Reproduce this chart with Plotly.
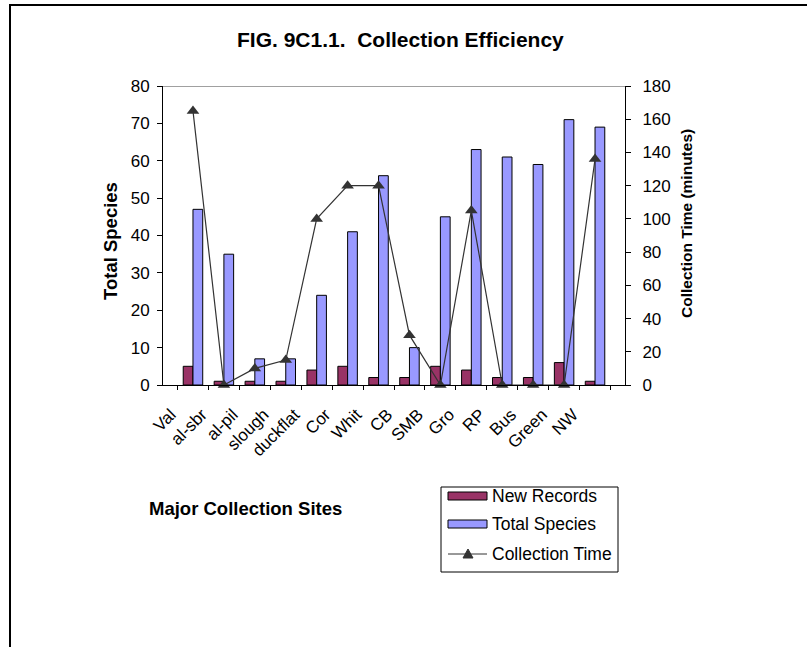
import plotly.graph_objects as go

# Collection sites along the bottom axis
sites = ["Val", "al-sbr", "al-pil", "slough", "duckflat", "Cor", "Whit",
         "CB", "SMB", "Gro", "RP", "Bus", "Green", "NW"]

# Species counts per site (left axis)
new_records = [5, 1, 1, 1, 4, 5, 2, 2, 5, 4, 2, 2, 6, 1]
total_species = [47, 35, 7, 7, 24, 41, 56, 10, 45, 63, 61, 59, 71, 69]

# Time spent collecting at each site, minutes (right axis)
collection_time = [165, 0, 10, 15, 100, 120, 120, 30, 0, 105, 0, 0, 0, 136]

species_ticks = list(range(0, 81, 10))
time_ticks = list(range(0, 181, 20))

FONT = "Liberation Sans, Arial, sans-serif"
RED = "#993366"
BLUE = "#9999FF"
LINE = "#333333"

# plot area in pixels
W, H = 807, 647
L, R, T, B = 163, 625, 86, 385
PW, PH = R - L, B - T


def px(x):
    return (x - L) / PW


def py(y):
    return (B - y) / PH


fig = go.Figure()

fig.add_trace(go.Bar(
    x=sites, y=new_records, name="New Records",
    marker=dict(color=RED, line=dict(color="black", width=1)),
    yaxis="y", showlegend=False,
))
fig.add_trace(go.Bar(
    x=sites, y=total_species, name="Total Species",
    marker=dict(color=BLUE, line=dict(color="black", width=1)),
    yaxis="y", showlegend=False,
))
fig.add_trace(go.Scatter(
    x=sites, y=collection_time, name="Collection Time",
    mode="lines+markers",
    line=dict(color=LINE, width=1.2),
    marker=dict(symbol="triangle-up", size=11, color=LINE),
    yaxis="y2", cliponaxis=False, showlegend=False,
))

tick_font = dict(family=FONT, size=17, color="black")

fig.update_layout(
    width=W, height=H, autosize=False,
    margin=dict(l=L, r=W - R, t=T, b=H - B, pad=0),
    paper_bgcolor="white", plot_bgcolor="white",
    barmode="group", bargap=0.37, bargroupgap=0,
    font=dict(family=FONT, color="black"),
    xaxis=dict(
        type="category", tickangle=-45, tickfont=tick_font,
        showline=True, linecolor="black", linewidth=1,
        ticks="outside", ticklen=4, tickcolor="black",
        tickson="boundaries", showgrid=False, zeroline=False,
        ticklabelshift=-22, ticklabelstandoff=12,
    ),
    yaxis=dict(
        range=[0, 80], tickvals=species_ticks, tickfont=tick_font,
        showline=True, linecolor="black", linewidth=1,
        ticks="outside", ticklen=5, tickcolor="black",
        ticklabelstandoff=4, showgrid=False, zeroline=False,
    ),
    yaxis2=dict(
        range=[0, 180], tickvals=time_ticks, tickfont=tick_font,
        overlaying="y", side="right",
        showline=True, linecolor="black", linewidth=1,
        ticks="outside", ticklen=5, tickcolor="black",
        ticklabelstandoff=8, showgrid=False, zeroline=False,
    ),
)

# gridline at the top of the species scale
fig.add_shape(type="line", xref="paper", yref="y", x0=0, x1=1,
              y0=species_ticks[-1], y1=species_ticks[-1],
              line=dict(color="#808080", width=1.5), layer="below")

# outer chart frame
fig.add_shape(type="rect", xref="paper", yref="paper",
              x0=px(10), x1=px(W + 20), y0=py(H + 20), y1=py(5),
              line=dict(color="black", width=2), layer="below")

annotations = [
    dict(text="<b>FIG. 9C1.1.  Collection Efficiency</b>", x=px(400), y=py(39),
         font=dict(size=21)),
    dict(text="<b>Total Species</b>", x=px(110), y=py(241), textangle=-90,
         font=dict(size=18.5)),
    dict(text="<b>Collection Time (minutes)</b>", x=px(686), y=py(224),
         textangle=-90, font=dict(size=15.5)),
    dict(text="<b>Major Collection Sites</b>", x=px(245), y=py(508),
         font=dict(size=18.5)),
]
for a in annotations:
    fig.add_annotation(xref="paper", yref="paper", showarrow=False,
                       xanchor="center", yanchor="middle", **a)

# legend box
lx0, lx1, ly0, ly1 = 441, 618, 487, 572
fig.add_shape(type="rect", xref="paper", yref="paper",
              x0=px(lx0), x1=px(lx1), y0=py(ly1), y1=py(ly0),
              line=dict(color="black", width=1), fillcolor="white")
legend_rows = [("New Records", RED, 496), ("Total Species", BLUE, 524),
               ("Collection Time", None, 554)]
sw0, sw1 = 448, 487
for label, color, yc in legend_rows:
    if color:
        fig.add_shape(type="rect", xref="paper", yref="paper",
                      x0=px(sw0), x1=px(sw1), y0=py(yc + 4), y1=py(yc - 4),
                      line=dict(color="black", width=1), fillcolor=color)
    fig.add_annotation(text=label, xref="paper", yref="paper",
                       x=px(490), y=py(yc), xanchor="left", yanchor="middle",
                       showarrow=False, font=dict(size=17.5))
fig.add_shape(type="line", xref="paper", yref="paper",
              x0=px(sw0), x1=px(sw1), y0=py(554), y1=py(554),
              line=dict(color=LINE, width=1))
fig.add_shape(type="path", xref="paper", yref="paper",
              path=(f"M {px(463)} {py(558)} L {px(473)} {py(558)} "
                    f"L {px(468)} {py(549)} Z"),
              line=dict(color=LINE, width=1), fillcolor=LINE)

fig.write_html("out.html")
